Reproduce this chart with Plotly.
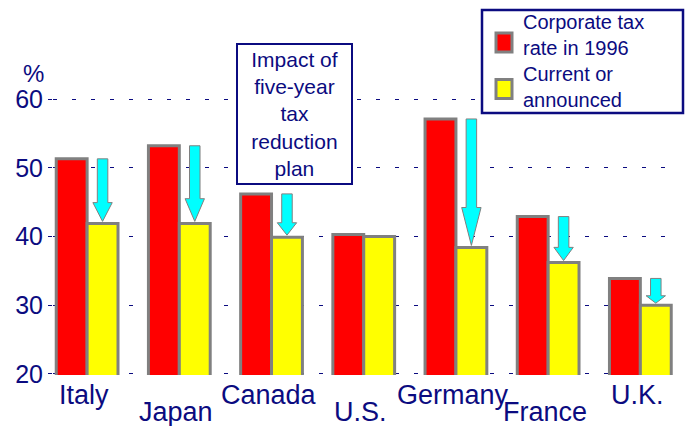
import plotly.graph_objects as go

countries = ["Italy", "Japan", "Canada", "U.S.", "Germany", "France", "U.K."]
rate_1996 = [51.3, 53.2, 46.2, 40.3, 57.1, 42.9, 33.9]
rate_now = [41.9, 41.9, 39.9, 40.0, 38.4, 36.2, 30.0]
label_row = [0, 1, 0, 1, 0, 1, 0]  # staggered category labels
y_ticks = [20, 30, 40, 50, 60]
series_names = ["Corporate tax<br>rate in 1996", "Current or<br>announced"]
series_colors = ["#ff0000", "#ffff00"]

NAVY = "#0b0b80"
GRAY = "#808080"
FONT = "Liberation Sans, Arial, sans-serif"

xs = list(range(len(countries)))
BW = 0.335

# plot area in pixels: top 98, bottom 375 (height 277)
T, B, H = 98, 51, 277


def py(px):
    """paper y from pixel row"""
    return (426 - B - px) / H


def pxx(px):
    """paper x from pixel column"""
    return (px - 53) / 627


fig = go.Figure()
fig.add_trace(go.Bar(x=xs, y=rate_1996, name=series_names[0],
                     marker=dict(color=series_colors[0], line=dict(color=GRAY, width=3)),
                     showlegend=False, offset=-BW, width=BW))
fig.add_trace(go.Bar(x=xs, y=rate_now, name=series_names[1],
                     marker=dict(color=series_colors[1], line=dict(color=GRAY, width=3)),
                     showlegend=False, offset=0, width=BW))

shapes = []
# arrows from 1996 rate down to current rate, over the current-rate bar
for i, (a, b) in enumerate(zip(rate_1996, rate_now)):
    if a - b < 1:
        continue
    cx = i + BW / 2
    sw, hw = 0.057, 0.105
    tip = b + 0.3
    head = 0.3 * (a - tip)
    neck = tip + head
    path = (f"M{cx - sw},{a} L{cx + sw},{a} L{cx + sw},{neck} L{cx + hw},{neck} "
            f"L{cx},{tip} L{cx - hw},{neck} L{cx - sw},{neck} Z")
    shapes.append(dict(type="path", path=path, xref="x", yref="y", fillcolor="#00ffff",
                       line=dict(color=GRAY, width=1), layer="above"))

# legend frame
shapes.append(dict(type="rect", xref="paper", yref="paper", x0=pxx(482), x1=pxx(683), y0=py(113), y1=py(10),
                   line=dict(color=NAVY, width=2.5), fillcolor="white", layer="above"))

annotations = []
# legend entries (symbol + text)
for k, (nm, col) in enumerate(zip(series_names, series_colors)):
    cy = 42.5 + 46.5 * k
    ty = 34.5 + 53 * k
    shapes.append(dict(type="rect", xref="paper", yref="paper", x0=pxx(496), x1=pxx(512),
                       y0=py(cy + 9.5), y1=py(cy - 9.5), fillcolor=col,
                       line=dict(color=GRAY, width=3), layer="above"))
    annotations.append(dict(x=pxx(521), y=py(ty), xref="paper", yref="paper", text=nm, showarrow=False,
                            xanchor="left", yanchor="middle", align="left",
                            font=dict(size=20, color=NAVY, family=FONT)))

for i, (c, r) in enumerate(zip(countries, label_row)):
    annotations.append(dict(x=i, y=py(395) if r == 0 else py(412), xref="x", yref="paper", text=c,
                            showarrow=False, xanchor="center", yanchor="middle", xshift=-3,
                            font=dict(size=27, color=NAVY, family=FONT)))
annotations.append(dict(x=pxx(33), y=py(73), xref="paper", yref="paper", text="%", showarrow=False,
                        xanchor="center", yanchor="middle", font=dict(size=24, color=NAVY, family=FONT)))
annotations.append(dict(x=pxx(294.5), y=py(114), xref="paper", yref="paper",
                        text="Impact of<br>five-year<br>tax<br>reduction<br>plan", showarrow=False,
                        xanchor="center", yanchor="middle", width=113, height=138, borderpad=0,
                        bgcolor="white", bordercolor=NAVY, borderwidth=2,
                        font=dict(size=21, color=NAVY, family=FONT)))

fig.update_layout(
    width=690, height=426,
    margin=dict(l=53, r=10, t=T, b=B),
    paper_bgcolor="white", plot_bgcolor="white",
    barmode="overlay",
    showlegend=False,
    font=dict(family=FONT, color=NAVY),
    xaxis=dict(range=[-0.37, 6.43], showticklabels=False, showgrid=False, zeroline=False,
               showline=False, ticks=""),
    yaxis=dict(range=[19.85, 60.15], tickvals=y_ticks, ticks="outside", ticklen=4, tickcolor=NAVY,
               tickfont=dict(size=25, color=NAVY, family=FONT), showgrid=True, gridcolor=NAVY,
               gridwidth=1, griddash="4px,15px", zeroline=False, showline=False),
    shapes=shapes, annotations=annotations,
)

fig.write_html("out.html")
